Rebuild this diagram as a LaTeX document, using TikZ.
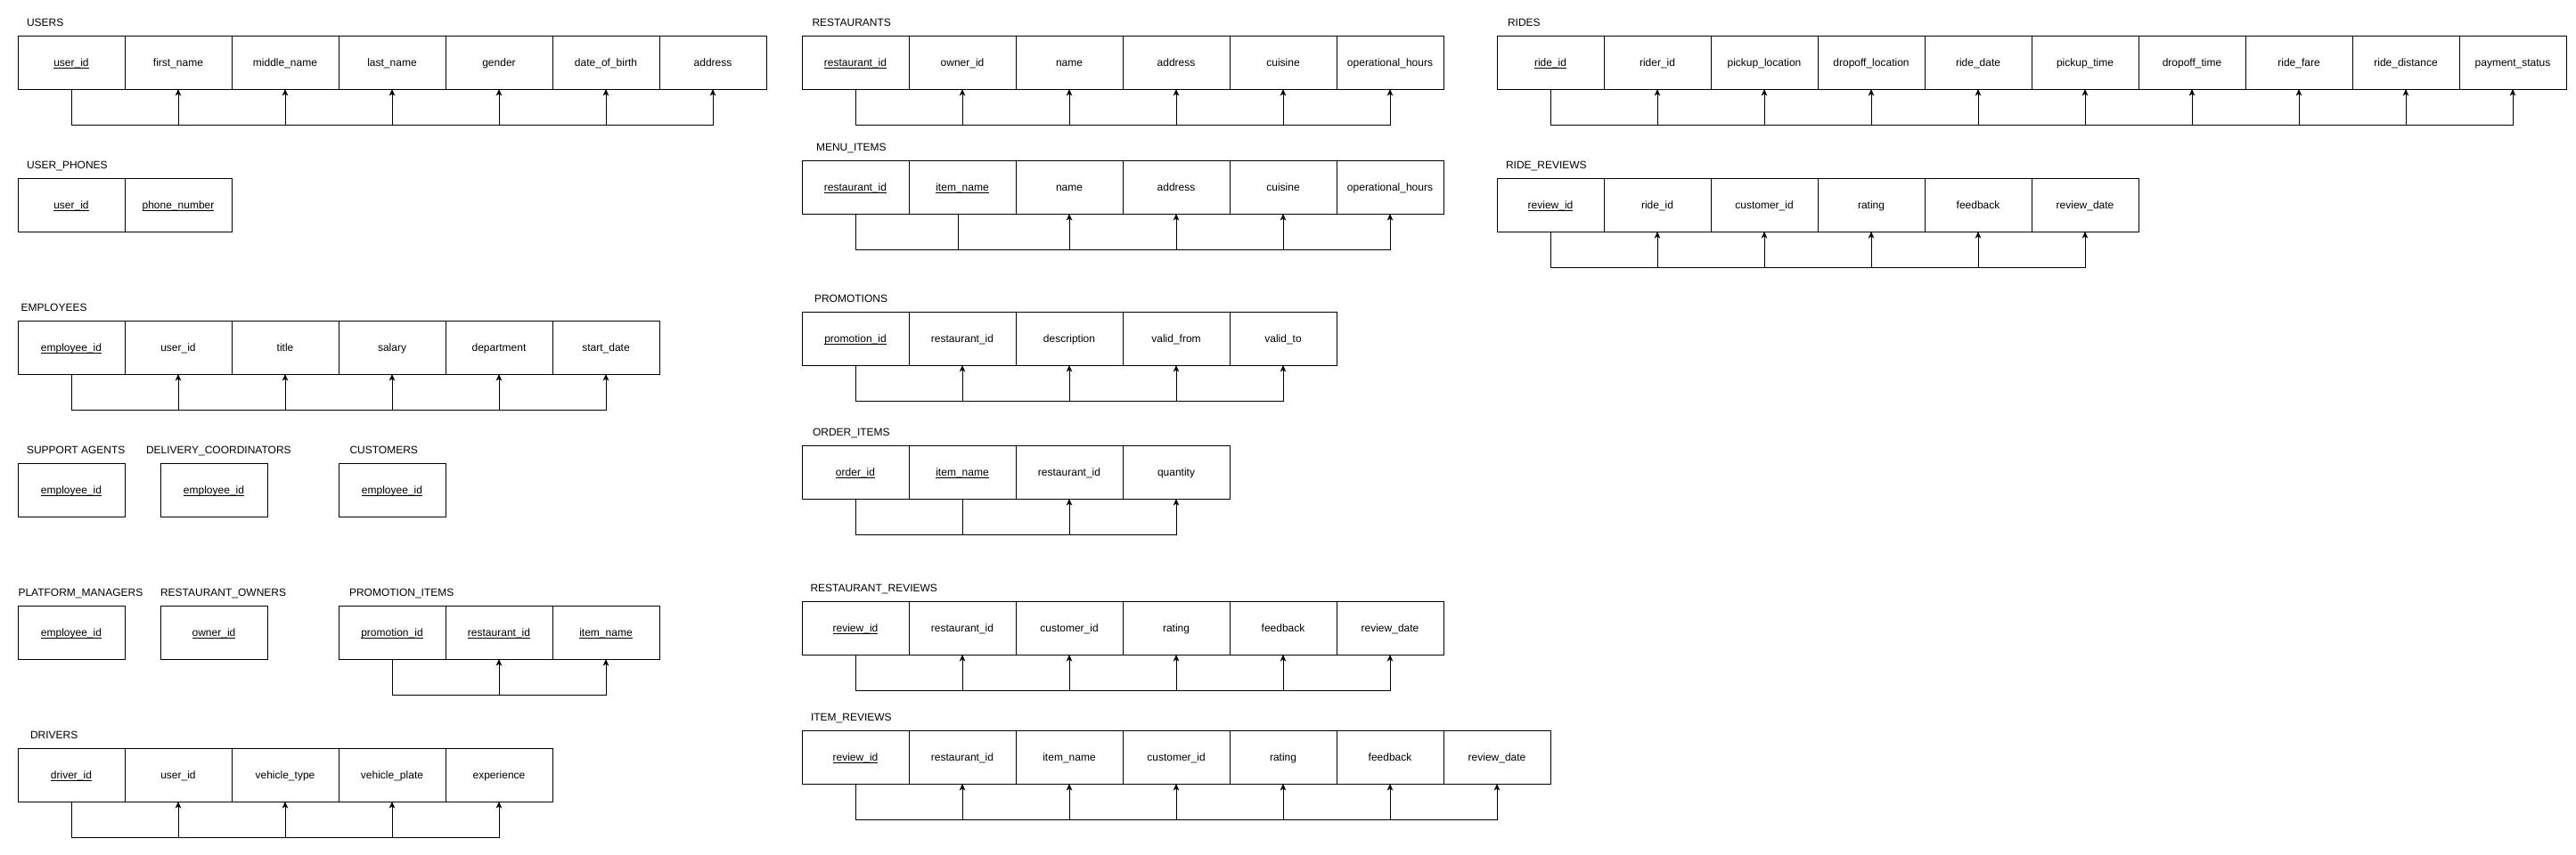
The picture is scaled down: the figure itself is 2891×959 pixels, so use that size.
\documentclass[tikz,border=0pt]{standalone}
\usepackage{fontspec}
\setmainfont{Liberation Sans}
\usetikzlibrary{arrows.meta}
\newsavebox\pkbox
\newcommand\pk[1]{\sbox\pkbox{#1}\rlap{\rule[-2.2pt]{\wd\pkbox}{0.9pt}}\usebox\pkbox}
\tikzset{
  cell/.style={draw, line width=1pt, minimum width=120pt, minimum height=60pt,
    inner sep=0pt, outer sep=0pt, text height=8.5pt, text depth=0pt,
    font=\fontsize{12}{14}\selectfont},
  tlabel/.style={anchor=west, inner sep=0pt, outer sep=0pt, text height=8.5pt,
    text depth=0pt, font=\fontsize{12}{14}\selectfont},
  fk/.style={line width=1pt, -{Stealth[length=7.5pt,width=6.5pt,inset=2pt]}},
  plain/.style={line width=1pt}
}
% #1 id, #2 x, #3 top y, #4 label, #5 label x, #6 fields
\newcommand\erdtab[6]{%
  \node[tlabel] (#1-lab) at (#5,{#3-14.3}) {#4};
  \foreach \f [count=\i] in {#6} {
    \node[cell] (#1-\i) at ({#2+120*\i-60},{#3+30}) {\f};
  }%
}
\begin{document}
\begin{tikzpicture}[x=1pt,y=-1pt]
\useasboundingbox (0,0) rectangle (2891,959);
% ---------- left column ----------
\erdtab{users}{20}{40}{USERS}{30}{\pk{user\_id},first\_name,middle\_name,last\_name,gender,date\_of\_birth,address}
\foreach \k in {2,...,7} \draw[fk] (users-1.south) -- ++(0,40) -| (users-\k.south);

\erdtab{phones}{20}{200}{USER\_PHONES}{30}{\pk{user\_id},\pk{phone\_number}}

\erdtab{emp}{20}{360}{EMPLOYEES}{23.5}{\pk{employee\_id},user\_id,title,salary,department,start\_date}
\foreach \k in {2,...,6} \draw[fk] (emp-1.south) -- ++(0,40) -| (emp-\k.south);

\erdtab{sa}{20}{520}{SUPPORT AGENTS}{30}{\pk{employee\_id}}
\erdtab{dc}{180}{520}{DELIVERY\_COORDINATORS}{164}{\pk{employee\_id}}
\erdtab{cust}{380}{520}{CUSTOMERS}{392.5}{\pk{employee\_id}}

\erdtab{pm}{20}{680}{PLATFORM\_MANAGERS}{20.5}{\pk{employee\_id}}
\erdtab{ro}{180}{680}{RESTAURANT\_OWNERS}{180}{\pk{owner\_id}}
\erdtab{pi}{380}{680}{PROMOTION\_ITEMS}{392}{\pk{promotion\_id},\pk{restaurant\_id},\pk{item\_name}}
\foreach \k in {2,3} \draw[fk] (pi-1.south) -- ++(0,40) -| (pi-\k.south);

\erdtab{drv}{20}{840}{DRIVERS}{34}{\pk{driver\_id},user\_id,vehicle\_type,vehicle\_plate,experience}
\foreach \k in {2,...,5} \draw[fk] (drv-1.south) -- ++(0,40) -| (drv-\k.south);

% ---------- middle column ----------
\erdtab{rest}{900}{40}{RESTAURANTS}{911.5}{\pk{restaurant\_id},owner\_id,name,address,cuisine,operational\_hours}
\foreach \k in {2,...,6} \draw[fk] (rest-1.south) -- ++(0,40) -| (rest-\k.south);

\erdtab{mi}{900}{180}{MENU\_ITEMS}{916}{\pk{restaurant\_id},\pk{item\_name},name,address,cuisine,operational\_hours}
\foreach \k in {3,...,6} \draw[fk] (mi-1.south) -- ++(0,40) -| (mi-\k.south);
\draw[plain] ([xshift=-5pt]mi-2.south) -- ++(0,40);

\erdtab{promo}{900}{350}{PROMOTIONS}{914}{\pk{promotion\_id},restaurant\_id,description,valid\_from,valid\_to}
\foreach \k in {2,...,5} \draw[fk] (promo-1.south) -- ++(0,40) -| (promo-\k.south);

\erdtab{oi}{900}{500}{ORDER\_ITEMS}{912}{\pk{order\_id},\pk{item\_name},restaurant\_id,quantity}
\foreach \k in {3,4} \draw[fk] (oi-1.south) -- ++(0,40) -| (oi-\k.south);
\draw[plain] (oi-2.south) -- ++(0,40);

\erdtab{rr}{900}{675}{RESTAURANT\_REVIEWS}{909.5}{\pk{review\_id},restaurant\_id,customer\_id,rating,feedback,review\_date}
\foreach \k in {2,...,6} \draw[fk] (rr-1.south) -- ++(0,40) -| (rr-\k.south);

\erdtab{ir}{900}{820}{ITEM\_REVIEWS}{910}{\pk{review\_id},restaurant\_id,item\_name,customer\_id,rating,feedback,review\_date}
\foreach \k in {2,...,7} \draw[fk] (ir-1.south) -- ++(0,40) -| (ir-\k.south);

% ---------- right column ----------
\erdtab{rides}{1680}{40}{RIDES}{1692}{\pk{ride\_id},rider\_id,pickup\_location,dropoff\_location,ride\_date,pickup\_time,dropoff\_time,ride\_fare,ride\_distance,payment\_status}
\foreach \k in {2,...,10} \draw[fk] (rides-1.south) -- ++(0,40) -| (rides-\k.south);

\erdtab{rdr}{1680}{200}{RIDE\_REVIEWS}{1690}{\pk{review\_id},ride\_id,customer\_id,rating,feedback,review\_date}
\foreach \k in {2,...,6} \draw[fk] (rdr-1.south) -- ++(0,40) -| (rdr-\k.south);
\end{tikzpicture}
\end{document}
